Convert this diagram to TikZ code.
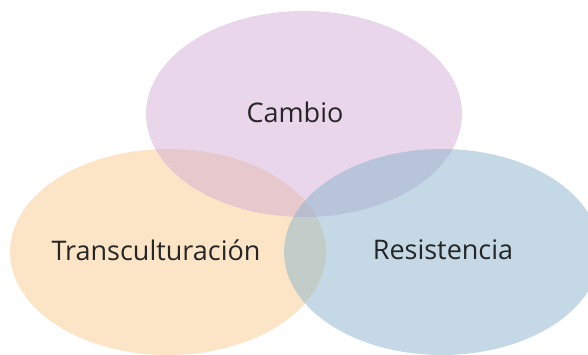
\documentclass[tikz,border=0pt]{standalone}
\usepackage{fontspec}
\setmainfont{Open Sans}
\usepackage{tikz}
\colorlet{cambioc}{rgb,255:red,211;green,173;blue,213}
\colorlet{transc}{rgb,255:red,249;green,203;blue,143}
\colorlet{resisc}{rgb,255:red,137;green,179;blue,203}

\begin{document}
\begin{tikzpicture}[
            x=1pt, y=-1pt,
            venn/.style={fill opacity=0.5},
            label/.style={text=black!85, font=\fontsize{27}{32}\selectfont}
        ]
            \useasboundingbox (0,0) rectangle (588,354);
            \clip (0,0) rectangle (588,354);

            \fill [venn,transc] (168,252) ellipse [x radius=158, y radius=103];
            \fill [venn,cambioc] (304,114) ellipse [x radius=158, y radius=103];
            \fill [venn,resisc] (442,252) ellipse [x radius=158, y radius=103];

            \node[label] (cambio) at (295,112) {Cambio};
            \node[label] (trans) at (156,250) {Transculturación};
            \node[label] (resis) at (443,250) {Resistencia};
        \end{tikzpicture}
\end{document}
